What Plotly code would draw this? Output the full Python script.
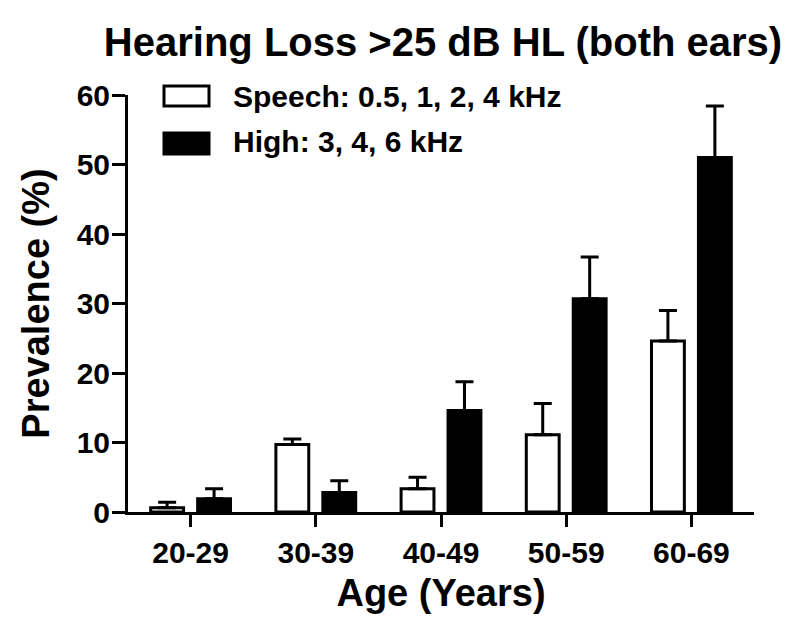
import plotly.graph_objects as go

categories = ["20-29", "30-39", "40-49", "50-59", "60-69"]
speech_vals = [0.6, 9.7, 3.35, 11.1, 24.6]
speech_err = [0.8, 0.8, 1.65, 4.5, 4.4]
high_vals = [1.9, 2.8, 14.6, 30.7, 51.0]
high_err = [1.45, 1.7, 4.15, 6.0, 7.4]
y_ticks = [0, 10, 20, 30, 40, 50, 60]
legend_labels = ["Speech: 0.5, 1, 2, 4 kHz", "High: 3, 4, 6 kHz"]

FONT = "Arial, 'Liberation Sans', sans-serif"

fig = go.Figure()
fig.add_trace(go.Bar(
    x=categories, y=speech_vals, name=legend_labels[0],
    marker=dict(color="white", line=dict(color="black", width=3)),
    error_y=dict(type="data", array=speech_err, arrayminus=[0] * len(speech_err),
                 symmetric=False, color="black", thickness=3, width=9),
))
fig.add_trace(go.Bar(
    x=categories, y=high_vals, name=legend_labels[1],
    marker=dict(color="black", line=dict(color="black", width=3)),
    error_y=dict(type="data", array=high_err, arrayminus=[0] * len(high_err),
                 symmetric=False, color="black", thickness=3, width=9),
))

# Plot area in pixels: x 128..754, y 95..512
L, R, T, B = 128, 754, 95, 512
W, H = 788, 624
def px(x):
    return (x - L) / (R - L)
def py(y):
    return (B - y) / (B - T)

shapes = [
    dict(type="rect", xref="paper", yref="paper", x0=px(164), x1=px(209), y0=py(106), y1=py(86),
         fillcolor="white", line=dict(color="black", width=3)),
    dict(type="rect", xref="paper", yref="paper", x0=px(164), x1=px(209), y0=py(154), y1=py(133),
         fillcolor="black", line=dict(color="black", width=3)),
]
annotations = [
    dict(text=legend_labels[0], xref="paper", yref="paper", x=px(231), y=py(96),
         xanchor="left", yanchor="middle", showarrow=False,
         font=dict(family=FONT, size=30, color="black", weight="bold")),
    dict(text=legend_labels[1], xref="paper", yref="paper", x=px(231), y=py(141),
         xanchor="left", yanchor="middle", showarrow=False,
         font=dict(family=FONT, size=30, color="black", weight="bold")),
]

fig.update_layout(
    width=W, height=H,
    margin=dict(l=L, r=W - R, t=T, b=H - B, pad=0),
    paper_bgcolor="white", plot_bgcolor="white",
    barmode="group", bargap=0.25, bargroupgap=0.3,
    showlegend=False,
    title=dict(text="Hearing Loss >25 dB HL (both ears)", x=443 / W, xanchor="center",
               y=1 - 42 / H, yanchor="middle", yref="container",
               font=dict(family=FONT, size=40, color="black", weight="bold")),
    font=dict(family=FONT, color="black"),
    shapes=shapes, annotations=annotations,
)
fig.update_xaxes(
    type="category", range=[-0.5, 4.5],
    showline=True, linewidth=3, linecolor="black",
    ticks="outside", ticklen=12, tickwidth=3, tickcolor="black",
    tickfont=dict(family=FONT, size=30, color="black", weight="bold"),
    showgrid=False, zeroline=False,
    title=dict(text="Age (Years)", standoff=12,
               font=dict(family=FONT, size=38, color="black", weight="bold")),
)
fig.update_yaxes(
    range=[0, 60], tickvals=y_ticks,
    showline=True, linewidth=3, linecolor="black",
    ticks="outside", ticklen=13, tickwidth=3, tickcolor="black",
    ticklabelstandoff=-4,
    tickfont=dict(family=FONT, size=30, color="black", weight="bold"),
    showgrid=False, zeroline=False,
    title=dict(text="Prevalence (%)", standoff=16,
               font=dict(family=FONT, size=38, color="black", weight="bold")),
)

fig.write_html("out.html")
